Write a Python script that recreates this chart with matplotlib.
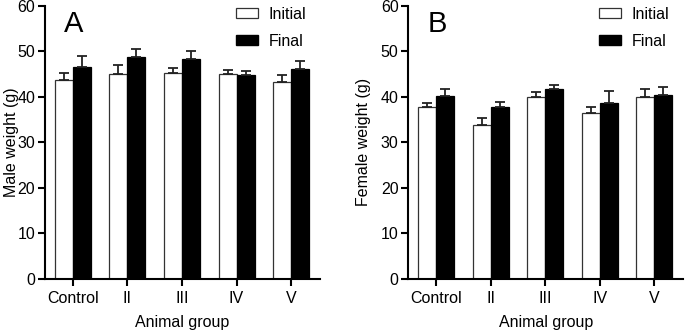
import matplotlib
matplotlib.use("Agg")
import matplotlib.pyplot as plt
import numpy as np
from matplotlib.patches import Patch

plt.rcParams['font.family'] = ['Liberation Sans', 'DejaVu Sans']

groups = ["Control", "II", "III", "IV", "V"]

male_initial = [43.7, 45.0, 45.2, 45.1, 43.3]
male_initial_err = [1.6, 2.0, 1.2, 0.8, 1.6]
male_final = [46.5, 48.85, 48.3, 44.8, 46.1]
male_final_err = [2.4, 1.75, 1.8, 1.0, 1.9]

female_initial = [37.7, 33.75, 40.0, 36.4, 39.9]
female_initial_err = [0.9, 1.55, 1.0, 1.45, 1.8]
female_final = [40.3, 37.7, 41.7, 38.6, 40.4]
female_final_err = [1.4, 1.1, 0.85, 2.6, 1.85]

yticks = [0, 10, 20, 30, 40, 50, 60]

fig = plt.figure(figsize=(6.85, 3.33), dpi=100)
axA = fig.add_axes([45/685, 1-278.7/333, (320-45)/685, (278.7-6)/333])
axB = fig.add_axes([408.3/685, 1-278.7/333, (683-408.3)/685, (278.7-6)/333])

FS = 11.5

def draw(ax, ini, ini_e, fin, fin_e, ylabel, letter, ylab_right_px, ax_left_px):
    x = np.arange(len(groups))
    w = 0.33
    ekw = dict(elinewidth=1.3, capthick=1.3, ecolor='#222222')
    ax.bar(x - w/2, ini, width=w, color='white', edgecolor='#333333', linewidth=0.9,
           yerr=[np.zeros(len(ini)), ini_e], capsize=3.3, error_kw=ekw, zorder=2)
    ax.bar(x + w/2, fin, width=w, color='black', edgecolor='black', linewidth=0.9,
           yerr=[np.zeros(len(fin)), fin_e], capsize=3.3, error_kw=ekw, zorder=2)
    ax.set_xlim(-0.51, 4.53)
    ax.set_ylim(0, 60)
    ax.set_yticks(yticks)
    ax.set_xticks(x)
    ax.set_xticklabels(groups, fontsize=FS)
    ax.tick_params(axis='y', labelsize=FS, width=1.5, length=5, direction='out', pad=2)
    ax.tick_params(axis='x', width=1.5, length=5, direction='out', pad=4)
    for s in ['top', 'right']:
        ax.spines[s].set_visible(False)
    for s in ['left', 'bottom']:
        ax.spines[s].set_linewidth(1.5)
    ax.set_xlabel("Animal group", fontsize=FS, labelpad=6)
    ax.set_ylabel(ylabel, fontsize=FS)
    ax_w_px = 275.0
    ax.yaxis.set_label_coords((ylab_right_px - ax_left_px) / ax_w_px, 0.5)
    ax.text(0.07, 0.985, letter, transform=ax.transAxes, fontsize=21, va='top', ha='left')
    handles = [Patch(facecolor='white', edgecolor='#333333', linewidth=0.9, label='Initial'),
               Patch(facecolor='black', edgecolor='black', label='Final')]
    ax.legend(handles=handles, loc='upper right', bbox_to_anchor=(1.002, 1.05), frameon=False,
              fontsize=FS, handlelength=1.4, handleheight=0.65, labelspacing=0.75, handletextpad=0.65)

draw(axA, male_initial, male_initial_err, male_final, male_final_err, "Male weight (g)", "A", 19, 45)
draw(axB, female_initial, female_initial_err, female_final, female_final_err, "Female weight (g)", "B", 371, 408.3)

fig.savefig("out.png", dpi=100)
